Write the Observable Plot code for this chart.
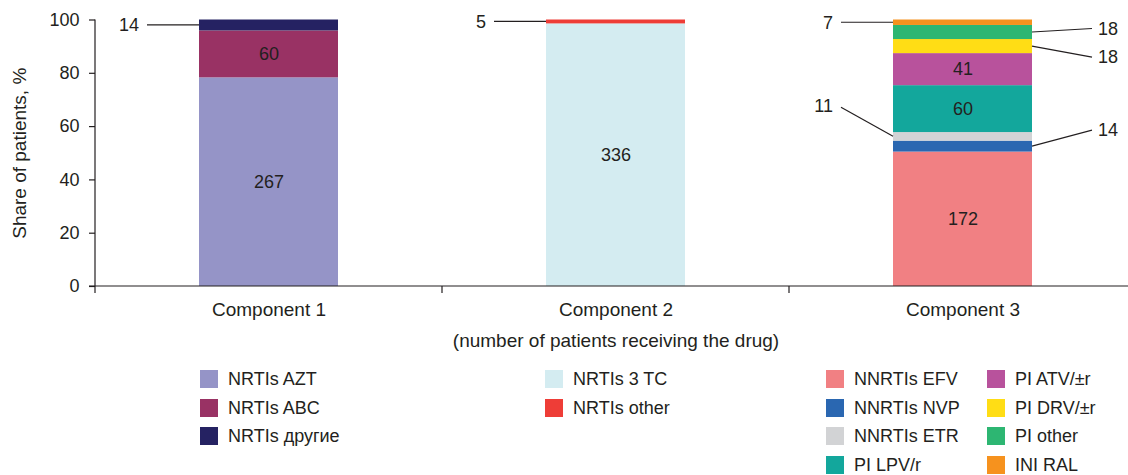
<!DOCTYPE html>
<html>
<head>
<meta charset="utf-8">
<script src="https://cdn.jsdelivr.net/npm/d3@7"></script>
<script src="https://cdn.jsdelivr.net/npm/@observablehq/plot@0.6"></script>
<style>
  body { margin: 0; background: #fff; font-family: "Liberation Sans", Arial, sans-serif; color: #231f20; }
  #chart { position: relative; width: 1128px; }
  #legend { position: relative; width: 1128px; height: 115px; font-size: 18px; }
  .item { position: absolute; display: flex; align-items: center; height: 18px; line-height: 18px; white-space: nowrap; }
  .sw { width: 18px; height: 18px; margin-right: 10px; flex: none; }
</style>
</head>
<body>
<div id="chart"></div>
<div id="legend"></div>
<script>
// Treatment components (x categories)
const components = ["Component 1", "Component 2", "Component 3"];

// Drugs, the component each belongs to, and the number of patients receiving it
const drugs = [
  "NRTIs AZT", "NRTIs ABC", "NRTIs другие",
  "NRTIs 3 TC", "NRTIs other",
  "NNRTIs EFV", "NNRTIs NVP", "NNRTIs ETR", "PI LPV/r",
  "PI ATV/±r", "PI DRV/±r", "PI other", "INI RAL"
];
const drugComponent = [0, 0, 0, 1, 1, 2, 2, 2, 2, 2, 2, 2, 2];
const patients = [267, 60, 14, 336, 5, 172, 14, 11, 60, 41, 18, 18, 7];

const drugColors = [
  "#9594c7", "#993264", "#252262",
  "#d4ecf1", "#ee3d37",
  "#f18083", "#2a67b1", "#d2d3d5", "#13a79c",
  "#b8529c", "#ffdd15", "#2db672", "#f6921e"
];

const yTicks = [0, 20, 40, 60, 80, 100];

// Segments that get a leader line instead of an inside label
const callouts = [
  {drug: "NRTIs другие", side: "left", dy: 0},
  {drug: "NRTIs other", side: "left", dy: 0},
  {drug: "INI RAL", side: "left", dy: 0},
  {drug: "PI other", side: "right", dy: -3.5},
  {drug: "PI DRV/±r", side: "right", dy: 11},
  {drug: "NNRTIs ETR", side: "left", dy: -31},
  {drug: "NNRTIs NVP", side: "right", dy: -16}
];

// Legend columns (lists of drug indices)
const legendColumns = [[0, 1, 2], [3, 4], [5, 6, 7, 8], [9, 10, 11, 12]];

// Stack each component's drugs into percentage segments
const totals = components.map((c, ci) =>
  d3.sum(patients.filter((_, i) => drugComponent[i] === ci)));
const cum = components.map(() => 0);
const rows = drugs.map((drug, i) => {
  const ci = drugComponent[i];
  const share = patients[i] / totals[ci] * 100;
  const y1 = cum[ci];
  const y2 = y1 + share;
  cum[ci] = y2;
  return {drug, component: components[ci], count: patients[i], y1, y2, mid: (y1 + y2) / 2};
});
const calloutDrugs = new Set(callouts.map(d => d.drug));
const inside = rows.filter(d => !calloutDrugs.has(d.drug));

const ink = "#231f20";

// Axis lines with ticks at the band boundaries
function frameLines(index, scales) {
  const x = scales.x, y = scales.y;
  const bw = x.bandwidth();
  const step = x.step();
  const g = d3.create("svg:g").attr("stroke", ink).attr("stroke-width", 1.2);
  const y0 = y(0);
  const left = x(components[0]) - (step - bw) / 2;
  g.append("line").attr("x1", left).attr("x2", left).attr("y1", y(100)).attr("y2", y0 + 7);
  g.append("line").attr("x1", left - 6).attr("x2", 1200).attr("y1", y0).attr("y2", y0);
  components.slice(0, -1).forEach(c => {
    const bx = x(c) + bw + (step - bw) / 2;
    g.append("line").attr("x1", bx).attr("x2", bx).attr("y1", y0).attr("y2", y0 + 7);
  });
  return g.node();
}

// Leader lines and labels for the thin segments
function calloutMarks(index, scales) {
  const x = scales.x, y = scales.y;
  const bw = x.bandwidth();
  const g = d3.create("svg:g");
  callouts.forEach(c => {
    const r = rows.find(d => d.drug === c.drug);
    const ay = y(r.mid);
    const ly = ay + c.dy;
    if (c.side === "left") {
      const x0 = x(r.component);
      g.append("line").attr("x1", x0).attr("y1", ay).attr("x2", x0 - 52).attr("y2", ly + (c.dy ? 2 : 0))
        .attr("stroke", ink).attr("stroke-width", 1.2);
      g.append("text").attr("x", x0 - 60).attr("y", ly).attr("dy", "0.35em")
        .attr("text-anchor", "end").attr("fill", ink).text(r.count);
    } else {
      const x1 = x(r.component) + bw;
      g.append("line").attr("x1", x1).attr("y1", ay).attr("x2", x1 + 60).attr("y2", ly)
        .attr("stroke", ink).attr("stroke-width", 1.2);
      g.append("text").attr("x", x1 + 66).attr("y", ly).attr("dy", "0.35em")
        .attr("text-anchor", "start").attr("fill", ink).text(r.count);
    }
  });
  return g.node();
}

const plot = Plot.plot({
  width: 1128,
  height: 360,
  marginLeft: 95,
  marginRight: -8,
  marginTop: 19.5,
  marginBottom: 74,
  style: {fontSize: "18px", fontFamily: "'Liberation Sans', Arial, sans-serif", color: ink, background: "white"},
  x: {domain: components, paddingInner: 0.6, paddingOuter: 0.3, label: null},
  y: {domain: [0, 100], label: null},
  color: {domain: drugs, range: drugColors},
  marks: [
    Plot.barY(rows, {x: "component", y1: "y1", y2: "y2", fill: "drug"}),
    Plot.text(inside, {x: "component", y: "mid", text: "count", fill: ink}),
    Plot.axisY({ticks: yTicks, tickSize: 6, tickPadding: 10, label: null, stroke: ink, strokeWidth: 1.2}),
    Plot.axisX({tickSize: 0, tickPadding: 16, label: null, fontSize: 19}),
    Plot.text(["Share of patients, %"], {frameAnchor: "left", rotate: -90, dx: -76, textAnchor: "middle", lineAnchor: "middle", fill: ink, fontSize: 19}),
    Plot.text(["(number of patients receiving the drug)"], {frameAnchor: "bottom", dy: 54, lineAnchor: "middle", fill: ink, fontSize: 19}),
    frameLines,
    calloutMarks
  ]
});
document.getElementById("chart").append(plot);

// Legend below the chart
const legendX = [200, 545, 826, 987];
const legendTop = [10, 38.5, 67, 95.5];
const legend = document.getElementById("legend");
legendColumns.forEach((col, ci) => {
  col.forEach((di, ri) => {
    const item = document.createElement("div");
    item.className = "item";
    item.style.left = legendX[ci] + "px";
    item.style.top = legendTop[ri] + "px";
    const sw = document.createElement("span");
    sw.className = "sw";
    sw.style.background = drugColors[di];
    const label = document.createElement("span");
    label.textContent = drugs[di];
    item.append(sw, label);
    legend.append(item);
  });
});
</script>
</body>
</html>
